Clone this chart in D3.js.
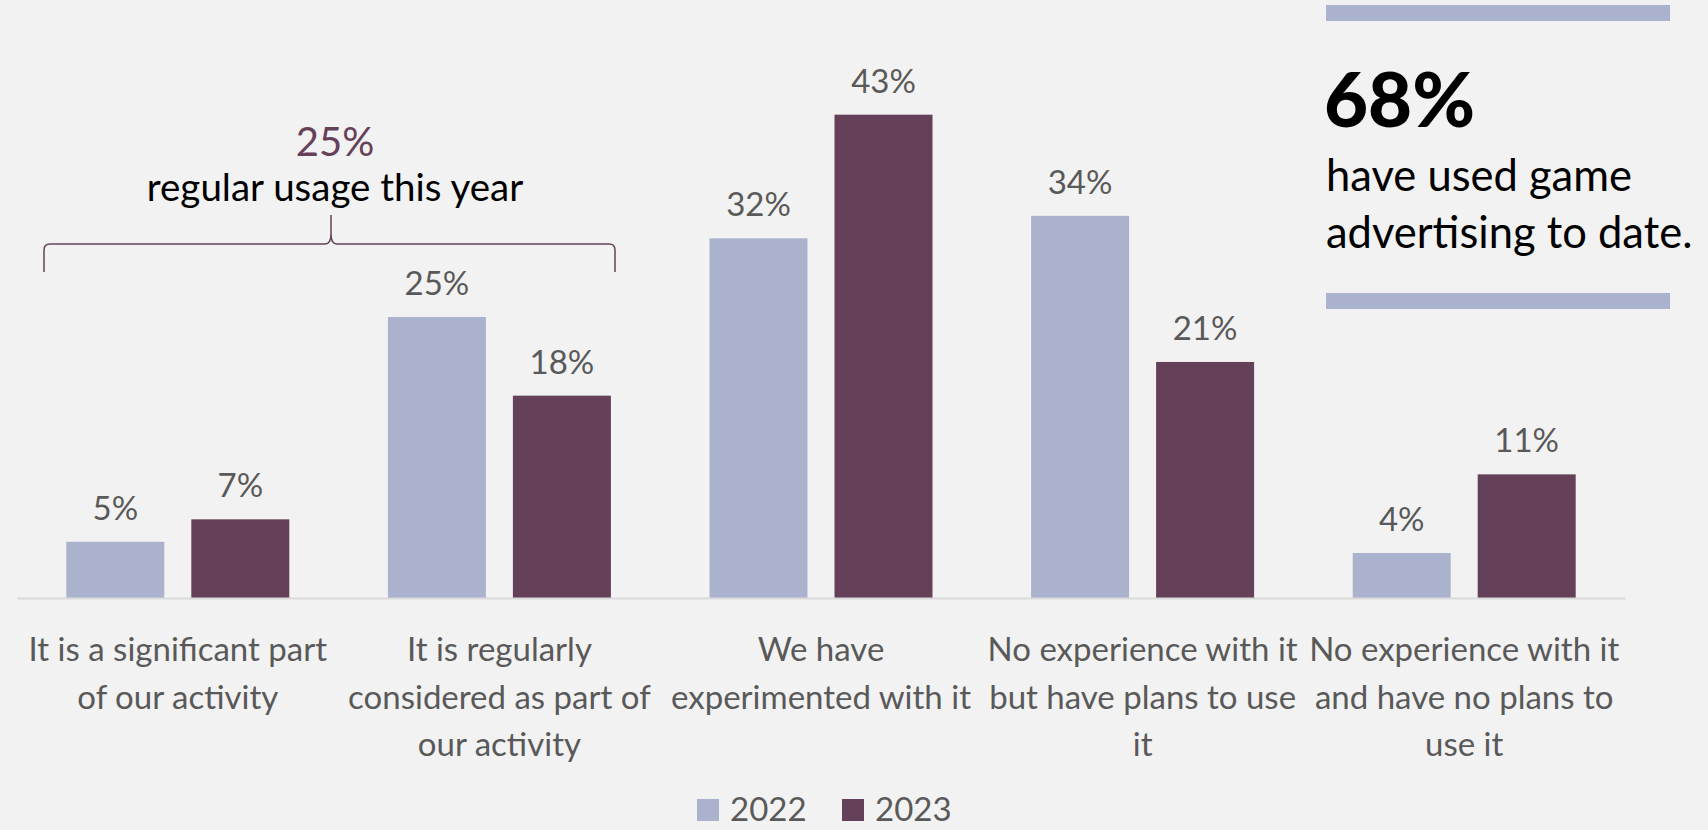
<!DOCTYPE html>
<html>
<head>
<meta charset="utf-8">
<script src="https://cdn.jsdelivr.net/npm/d3@7"></script>
<style>
  html, body { margin: 0; padding: 0; background: #F2F2F2; }
  svg { display: block; }
  text { font-family: Lato, "Open Sans", sans-serif; }
</style>
</head>
<body>
<svg id="chart" width="1708" height="830"></svg>
<script>
// Survey answers on game advertising, share of respondents per year
const categories = [
  "It is a significant part\nof our activity",
  "It is regularly\nconsidered as part of\nour activity",
  "We have\nexperimented with it",
  "No experience with it\nbut have plans to use\nit",
  "No experience with it\nand have no plans to\nuse it"
];
const series = ["2022", "2023"];
const values2022 = [5, 25, 32, 34, 4];
const values2023 = [7, 18, 43, 21, 11];
const colors = ["#ABB2CE", "#654059"];

const calloutValue = "68%";
const calloutLines = ["have used game", "advertising to date."];
const braceValue = "25%";
const braceText = "regular usage this year";

const data = categories.map((c, i) => ({
  category: c,
  values: [values2022[i], values2023[i]]
}));

const svg = d3.select("#chart");
svg.append("rect").attr("width", 1708).attr("height", 830).attr("fill", "#F2F2F2");

const x0 = d3.scaleBand()
  .domain(categories)
  .range([17, 1625])
  .paddingInner(0.3066)
  .paddingOuter(0.1533);

const x1 = d3.scaleBand()
  .domain(series)
  .range([0, x0.bandwidth()])
  .paddingInner(0.216);

const y = d3.scaleLinear().domain([0, 50]).range([598, 36]);

const color = d3.scaleOrdinal().domain(series).range(colors);

// bars
const groups = svg.append("g")
  .selectAll("g")
  .data(data)
  .join("g")
  .attr("transform", d => `translate(${x0(d.category)},0)`);

const cells = groups.selectAll("g")
  .data(d => series.map((s, j) => ({ s, v: d.values[j] })))
  .join("g");

cells.append("rect")
  .attr("x", d => x1(d.s))
  .attr("y", d => y(d.v))
  .attr("width", x1.bandwidth())
  .attr("height", d => y(0) - y(d.v))
  .attr("fill", d => color(d.s));

cells.append("text")
  .attr("x", d => x1(d.s) + x1.bandwidth() / 2)
  .attr("y", d => y(d.v) - 22)
  .attr("text-anchor", "middle")
  .attr("font-size", 33)
  .attr("fill", "#595959")
  .text(d => d.v + "%");

// category axis
const axis = svg.append("g")
  .attr("transform", `translate(0,${y(0)})`)
  .call(d3.axisBottom(x0).tickSize(0).tickSizeOuter(0));

axis.select(".domain").attr("stroke", "#D9D9D9").attr("stroke-width", 2);

axis.selectAll(".tick text").each(function(d) {
  const t = d3.select(this);
  t.text(null)
    .attr("y", 0)
    .attr("dy", null)
    .attr("font-size", 33)
    .attr("font-family", "Lato, sans-serif")
    .attr("fill", "#595959");
  d.split("\n").forEach((line, k) => {
    t.append("tspan").attr("x", 0).attr("y", 63 + k * 47.5).text(line);
  });
});

// legend
const legend = svg.append("g").attr("transform", "translate(697,799)");
const items = legend.selectAll("g")
  .data(series)
  .join("g")
  .attr("transform", (d, i) => `translate(${i * 145},0)`);
items.append("rect").attr("width", 22).attr("height", 22).attr("fill", d => color(d));
items.append("text")
  .attr("x", 33).attr("y", 22)
  .attr("font-size", 33)
  .attr("fill", "#595959")
  .text(d => d);

// brace over the first two answers
const bx0 = 44, bx1 = 615, bmid = 331, by = 244, bbot = 272, btip = 215, r = 6;
const brace = d3.path();
brace.moveTo(bx0, bbot);
brace.lineTo(bx0, by + r);
brace.quadraticCurveTo(bx0, by, bx0 + r, by);
brace.lineTo(bmid - r, by);
brace.quadraticCurveTo(bmid, by, bmid, by - 10);
brace.lineTo(bmid, btip);
brace.moveTo(bmid, by - 10);
brace.quadraticCurveTo(bmid, by, bmid + r, by);
brace.lineTo(bx1 - r, by);
brace.quadraticCurveTo(bx1, by, bx1, by + r);
brace.lineTo(bx1, bbot);
svg.append("path")
  .attr("d", brace.toString())
  .attr("fill", "none")
  .attr("stroke", "#654059")
  .attr("stroke-width", 1.5);

svg.append("text")
  .attr("x", 335).attr("y", 156)
  .attr("text-anchor", "middle")
  .attr("font-size", 40)
  .attr("fill", "#654059")
  .text(braceValue);
svg.append("text")
  .attr("x", 335).attr("y", 201)
  .attr("text-anchor", "middle")
  .attr("font-size", 38.5)
  .attr("fill", "#000")
  .text(braceText);

// call-out box on the right
svg.append("rect").attr("x", 1326).attr("y", 5).attr("width", 344).attr("height", 16).attr("fill", colors[0]);
svg.append("rect").attr("x", 1326).attr("y", 293).attr("width", 344).attr("height", 16).attr("fill", colors[0]);
svg.append("text")
  .attr("x", 1324).attr("y", 127)
  .attr("font-size", 76)
  .attr("font-weight", 900)
  .attr("fill", "#000")
  .text(calloutValue);
svg.append("g").selectAll("text")
  .data(calloutLines)
  .join("text")
  .attr("x", 1326)
  .attr("y", (d, i) => 191 + i * 57)
  .attr("font-size", 43.5)
  .attr("fill", "#000")
  .text(d => d);
</script>
</body>
</html>
